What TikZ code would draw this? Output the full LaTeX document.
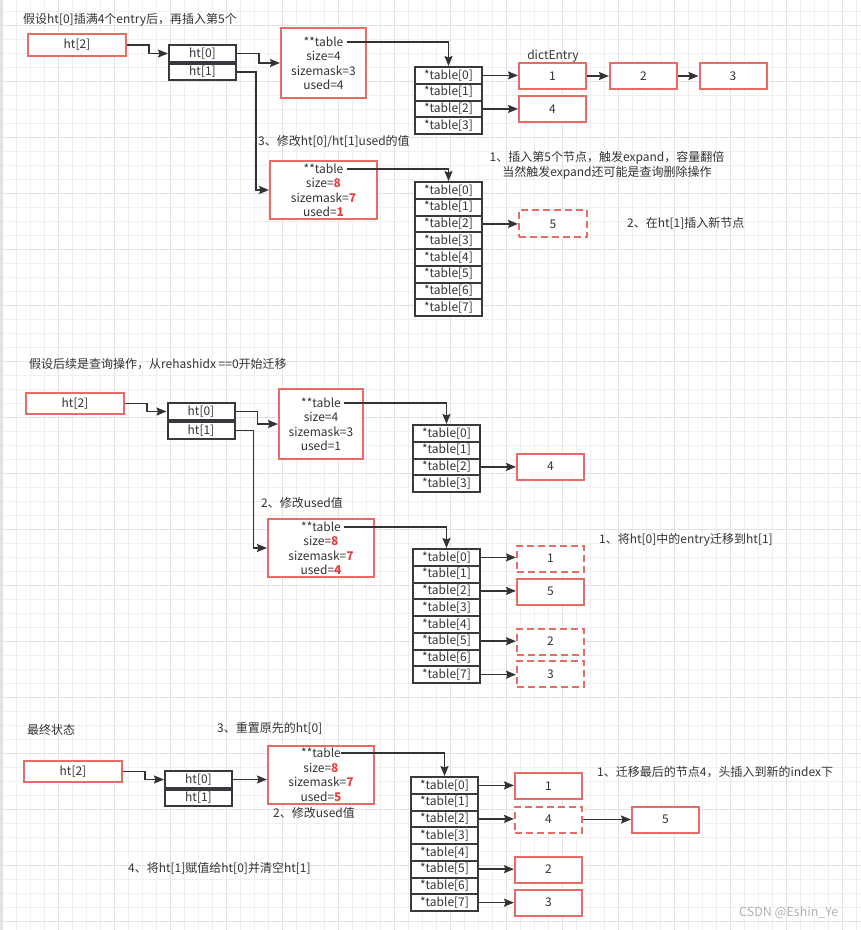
\documentclass[tikz,border=0pt]{standalone}
\usepackage{fontspec}
\setmainfont{Noto Sans CJK SC}
\usetikzlibrary{arrows.meta}
\definecolor{boxred}{HTML}{EA6B66}
\definecolor{cellline}{HTML}{36393D}
\definecolor{linecol}{HTML}{333333}
\definecolor{txt}{HTML}{333333}
\definecolor{numred}{HTML}{E8413E}
\definecolor{gridminor}{HTML}{F0F0F0}
\definecolor{gridmajor}{HTML}{E2E2E2}
\tikzset{
  redbox/.style={draw=boxred, line width=2pt, fill=white, text=txt,
    minimum width=67pt, minimum height=26pt, inner sep=0pt},
  dashbox/.style={redbox, dash pattern=on 7pt off 4pt},
  cell/.style={draw=cellline, line width=2pt, fill=white, text=txt,
    minimum width=67pt, minimum height=16.75pt, inner sep=0pt},
  field/.style={text=txt, inner sep=0pt},
  link/.style={->, line width=1.6pt, draw=linecol},
  note/.style={text=txt, anchor=west, inner sep=0pt},
}
\newcommand{\rednum}[1]{\textcolor{numred}{\bfseries #1}}
\begin{document}
\begin{tikzpicture}[x=1pt, y=-1pt, >={Stealth[length=10pt,width=8pt,inset=1.5pt]},
  font=\fontsize{12}{14}\selectfont]
\useasboundingbox (0,0) rectangle (861,930);
% grid
\fill[white] (0,0) rectangle (861,930);
\foreach \x in {2.3,16.3,...,861}
    \draw[gridminor, line width=1pt] (\x,0) -- (\x,930);
\foreach \y in {11,25,...,930}
    \draw[gridminor, line width=1pt] (0,\y) -- (861,\y);
\foreach \x in {2.3,58.3,...,861}
    \draw[gridmajor, line width=1pt] (\x,0) -- (\x,930);
\foreach \y in {25,81,...,930}
    \draw[gridmajor, line width=1pt] (0,\y) -- (861,\y);
\fill[gridmajor] (0,0) rectangle (2.5,930);

% ---- part 1: ht[0] full, insert the 5th entry
\node[note] (titleA) at (23,20) {假设ht[0]插满4个entry后，再插入第5个};
\node[redbox, minimum width=98pt, minimum height=22pt] (h2A) at (77,45) {ht[2]};
\node[cell, minimum height=17pt] (h0A) at (202.5,53.5) {ht[0]};
\node[cell, minimum height=16pt, anchor=north] (h1A) at (h0A.south) {ht[1]};
\node[redbox, minimum width=85pt, minimum height=70pt] (dictA) at (323.5,63) {};
\node[field] (ptrA) at (323.5,42) {**table};
\node[field] (sizeA) at (323.5,56) {size=4};
\node[field] (maskA) at (323.5,71) {sizemask=3};
\node[field] (usedA) at (323.5,85) {used=4};
\foreach \i in {0,...,3}
    \node[cell] (tA\i) at (448.5,75.4+16.75*\i) {*table[\i]};
\node[field] (entryA) at (553,56) {dictEntry};
\node[redbox] (eA1) at (552.5,76) {1};
\node[redbox] (eA2) at (643.5,76) {2};
\node[redbox] (eA3) at (733,76) {3};
\node[redbox] (eA4) at (552.5,109) {4};
\draw[link] (h2A.east) -- ++(22,0) |- (h0A.west);
\draw[link] (h0A.east) -- ++(22,0) |- (dictA.west);
\draw[link] ([xshift=3pt]ptrA.east) -| (tA0.north);
\draw[link] (tA0.east) -- (tA0.east -| eA1.west);
\draw[link] (eA1) -- (eA2);
\draw[link] (eA2) -- (eA3);
\draw[link] (tA2.east) -- (tA2.east -| eA4.west);

\node[note] (noteA3) at (258,142) {3、修改ht[0]/ht[1]used的值};
\node[redbox, minimum width=107pt, minimum height=58pt] (dictB) at (323.5,190) {};
\node[field] (ptrB) at (323.5,169) {**table};
\node[field] (sizeB) at (323.5,183) {size=\rednum{8}};
\node[field] (maskB) at (323.5,198) {sizemask=\rednum{7}};
\node[field] (usedB) at (323.5,212) {used=\rednum{1}};
\foreach \i in {0,...,7}
    \node[cell] (tB\i) at (448.5,190.4+16.75*\i) {*table[\i]};
\node[dashbox, minimum width=68pt, minimum height=27pt] (eB5) at (553,223.9) {5};
\draw[link] (h1A.east) -- ++(19,0) |- (dictB.west);
\draw[link] ([xshift=3pt]ptrB.east) -| (tB0.north);
\draw[link] (tB2.east) -- (tB2.east -| eB5.west);
\node[text=txt, align=center, inner sep=0pt] (noteA1) at (607,165.5)
    {1、插入第5个节点，触发expand，容量翻倍\\[1pt]当然触发expand还可能是查询删除操作};
\node[note] (noteA2) at (627,223) {2、在ht[1]插入新节点};

% ---- part 2: a lookup moves bucket 0
\node[note] (titleB) at (29,364) {假设后续是查询操作，从rehashidx ==0开始迁移};
\node[redbox, minimum width=98pt, minimum height=21pt] (h2B) at (75,403.5) {ht[2]};
\node[cell, minimum height=17pt] (h0B) at (201,411.5) {ht[0]};
\node[cell, minimum height=17pt, anchor=north] (h1B) at (h0B.south) {ht[1]};
\node[redbox, minimum width=84pt, minimum height=70pt] (dictC) at (321,424) {};
\node[field] (ptrC) at (321,403) {**table};
\node[field] (sizeC) at (321,417) {size=4};
\node[field] (maskC) at (321,432) {sizemask=3};
\node[field] (usedC) at (321,446) {used=1};
\foreach \i in {0,...,3}
    \node[cell] (tC\i) at (446.5,433.4+16.75*\i) {*table[\i]};
\node[redbox] (eC4) at (550.5,466.5) {4};
\draw[link] (h2B.east) -- ++(22,0) |- (h0B.west);
\draw[link] (h0B.east) -- ++(22,0) |- (dictC.west);
\draw[link] ([xshift=3pt]ptrC.east) -| (tC0.north);
\draw[link] (tC2.east) -- (tC2.east -| eC4.west);

\node[note] (noteB2) at (261,503) {2、修改used值};
\node[redbox, minimum width=106pt, minimum height=58pt] (dictD) at (321,548) {};
\node[field] (ptrD) at (321,527) {**table};
\node[field] (sizeD) at (321,541) {size=\rednum{8}};
\node[field] (maskD) at (321,556) {sizemask=\rednum{7}};
\node[field] (usedD) at (321,570) {used=\rednum{4}};
\foreach \i in {0,...,7}
    \node[cell] (tD\i) at (446.5,557.4+16.75*\i) {*table[\i]};
\node[dashbox] (eD1) at (550.5,558.5) {1};
\node[redbox] (eD5) at (550.5,591.5) {5};
\node[dashbox] (eD2) at (550.5,641.5) {2};
\node[dashbox] (eD3) at (550.5,674) {3};
\draw[link] (h1B.east) -- ++(18,0) |- (dictD.west);
\draw[link] ([xshift=3pt]ptrD.east) -| (tD0.north);
\draw[link] (tD0.east) -- (tD0.east -| eD1.west);
\draw[link] (tD2.east) -- (tD2.east -| eD5.west);
\draw[link] (tD5.east) -- (tD5.east -| eD2.west);
\draw[link] (tD7.east) -- (tD7.east -| eD3.west);
\node[note] (noteB1) at (599,540) {1、将ht[0]中的entry迁移到ht[1]};

% ---- part 3: final state
\node[note] (titleC) at (27,730) {最终状态};
\node[note] (noteC3) at (217,728) {3、重置原先的ht[0]};
\node[redbox, minimum width=98pt, minimum height=21pt] (h2C) at (73,771.5) {ht[2]};
\node[cell, minimum height=17pt] (h0C) at (198.5,779.5) {ht[0]};
\node[cell, minimum height=16pt, anchor=north] (h1C) at (h0C.south) {ht[1]};
\node[redbox, minimum width=106pt, minimum height=58pt] (dictE) at (321,775) {};
\node[field] (ptrE) at (321,753) {**table};
\node[field] (sizeE) at (321,768) {size=\rednum{8}};
\node[field] (maskE) at (321,782) {sizemask=\rednum{7}};
\node[field] (usedE) at (321,797) {used=\rednum{5}};
\node[note] (noteC2) at (273,813) {2、修改used值};
\node[note] (noteC4) at (128,868) {4、将ht[1]赋值给ht[0]并清空ht[1]};
\foreach \i in {0,...,7}
    \node[cell] (tE\i) at (444.5,785.4+16.75*\i) {*table[\i]};
\node[redbox] (eE1) at (548.5,786) {1};
\node[dashbox] (eE4) at (548.5,819.5) {4};
\node[redbox] (eE5) at (665.5,819.5) {5};
\node[redbox] (eE2) at (548.5,869.5) {2};
\node[redbox] (eE3) at (548.5,902.5) {3};
\draw[link] (h2C.east) -- ++(22,0) |- (h0C.west);
\draw[link] (h0C.east) -- (h0C.east -| dictE.west);
\draw[link] (ptrE.east) -| (tE0.north);
\draw[link] (tE0.east) -- (tE0.east -| eE1.west);
\draw[link] (tE2.east) -- (tE2.east -| eE4.west);
\draw[link] (eE4) -- (eE5);
\draw[link] (tE5.east) -- (tE5.east -| eE2.west);
\draw[link] (tE7.east) -- (tE7.east -| eE3.west);
\node[note] (noteC1) at (597,772) {1、迁移最后的节点4，头插入到新的index下};
\node[note, text=black!30, font=\fontsize{12.5}{14}\selectfont] (mark) at (739,913) {CSDN @Eshin\_Ye};
\end{tikzpicture}
\end{document}
